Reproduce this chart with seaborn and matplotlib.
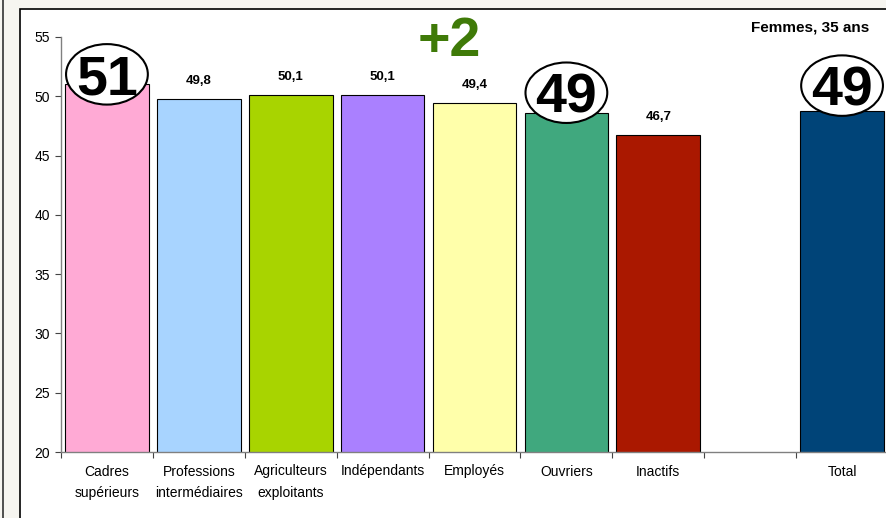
import matplotlib
matplotlib.use("Agg")
import matplotlib.pyplot as plt
import seaborn as sns
import pandas as pd
from matplotlib.patches import Ellipse, Rectangle
from matplotlib.lines import Line2D

# data
categories = ["Cadres\nsupérieurs", "Professions\nintermédiaires", "Agriculteurs\nexploitants",
              "Indépendants", "Employés", "Ouvriers", "Inactifs", "Total"]
values = [51.0, 49.8, 50.1, 50.1, 49.4, 48.6, 46.7, 48.8]
colors = ["#ffaad5", "#a8d4ff", "#a8d400", "#aa80ff", "#ffffaa", "#40a87e", "#aa1800", "#004478"]
order = categories[:7] + [" "] + ["Total"]
circled = {"Cadres\nsupérieurs": "51", "Ouvriers": "49", "Total": "49"}
circle_lift = {"Cadres\nsupérieurs": 0.85, "Ouvriers": 1.7, "Total": 2.1}
y_ticks = [20, 25, 30, 35, 40, 45, 50, 55]

sns.set_style("ticks")
plt.rcParams['font.family'] = ['Liberation Sans', 'DejaVu Sans']
plt.rcParams['text.color'] = 'black'
plt.rcParams['xtick.color'] = 'black'
plt.rcParams['ytick.color'] = 'black'

fig = plt.figure(figsize=(8.86, 5.18), dpi=100, facecolor="#f6f5f0")
# outer frame like the original slide
fig.add_artist(Rectangle((19.5 / 886, -0.1), 1.0, (518 - 9.5) / 518 + 0.1, transform=fig.transFigure,
                         facecolor="white", edgecolor="black", lw=1.2, zorder=-1))
fig.add_artist(Line2D([2.5 / 886, 2.5 / 886], [0, 1], transform=fig.transFigure, color="#333333", lw=1.2))

ax = fig.add_axes([61 / 886, 66 / 518, 827 / 886, 415 / 518])
ax.set_facecolor("none")

df = pd.DataFrame({"cat": categories, "val": values})
sns.barplot(data=df, x="cat", y="val", order=order, hue="cat", hue_order=categories,
            palette=dict(zip(categories, colors)), saturation=1, legend=False, width=0.91,
            edgecolor="black", linewidth=0.8, ax=ax)

ax.set_xlim(-0.5, 8.5)
ax.set_ylim(20, 55)
ax.set_yticks(y_ticks)
ax.set_xlabel("")
ax.set_ylabel("")
for s in ["top", "right"]:
    ax.spines[s].set_visible(False)
for s in ["left", "bottom"]:
    ax.spines[s].set_color("#808080")
    ax.spines[s].set_linewidth(1.0)
ax.tick_params(axis="y", length=4, width=0.8, color="#444444", labelsize=10, pad=4)
ax.tick_params(axis="x", which="major", length=0, labelsize=10, pad=9)
ax.set_xticks([i + 0.5 for i in range(-1, 9)], minor=True)
ax.tick_params(axis="x", which="minor", length=4, width=0.8, color="#444444")
for lab in ax.get_xticklabels():
    lab.set_linespacing(1.65)
    lab.set_verticalalignment("top")

for cat, v in zip(categories, values):
    i = order.index(cat)
    if cat in circled:
        cy = v + circle_lift[cat]
        ax.add_patch(Ellipse((i, cy), 0.89, 5.1, facecolor="white", edgecolor="black", lw=1.5, zorder=5))
        ax.text(i, cy, circled[cat], ha="center", va="center_baseline", fontsize=40,
                fontweight="bold", zorder=6)
    else:
        ax.annotate(f"{v:.1f}".replace(".", ","), (i, v), xytext=(0, 13), textcoords="offset points",
                    ha="center", va="center", fontsize=9.5, fontweight="bold")

fig.text(449 / 886, 1 - 42 / 518, "+2", ha="center", va="center", fontsize=40,
         fontweight="bold", color="#3f7a08")
fig.text(869 / 886, 1 - 27 / 518, "Femmes, 35 ans", ha="right", va="center", fontsize=11,
         fontweight="bold")

fig.savefig("out.png", dpi=100, facecolor=fig.get_facecolor())
